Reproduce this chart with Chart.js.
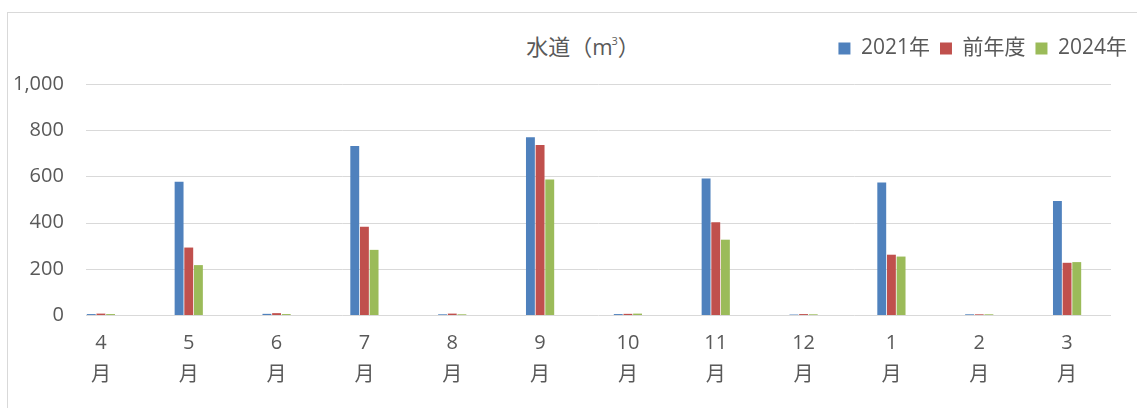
<!DOCTYPE html>
<html>
<head>
<meta charset="utf-8">
<script src="https://cdn.jsdelivr.net/npm/chart.js@4/dist/chart.umd.min.js"></script>
<style>
  html, body { margin: 0; padding: 0; background: #fff; }
  #wrap { position: relative; width: 1137px; height: 408px; overflow: hidden; }
  #frame { position: absolute; left: 7px; top: 12px; width: 1140px; height: 420px;
           border: 1px solid #d9d9d9; box-sizing: border-box; }
  #title { position: absolute; left: 0; top: 29px; width: 1166px; text-align: center;
           font: 22px "Open Sans", "Noto Sans CJK JP", sans-serif; color: #595959; }
  #title sup { font-size: 11px; vertical-align: 10px; margin-left: -1px; }
  canvas { position: absolute; left: 0; top: 0; }
</style>
</head>
<body>
<div id="wrap">
  <div id="frame"></div>
  <div id="title">水道（m<sup>3</sup>）</div>
  <canvas id="water-chart" width="1137" height="408"></canvas>
</div>
<script>
// Monthly water usage (m3), fiscal year order
const months = ['4', '5', '6', '7', '8', '9', '10', '11', '12', '1', '2', '3'];
const usage2021 = [4, 577, 5, 732, 3, 769, 4, 591, 2, 574, 3, 494];
const usagePrev = [6, 292, 8, 382, 6, 736, 5, 402, 4, 261, 3, 226];
const usage2024 = [4, 216, 4, 282, 3, 587, 6, 326, 3, 253, 3, 229];
const yTicks = [0, 200, 400, 600, 800, 1000];

const FONT = '"Open Sans", "Noto Sans CJK JP", sans-serif';
const TEXT = '#595959';
const GRID = '#d9d9d9';

// Excel draws the horizontal gridlines starting a bit right of the plot edge
const gridPlugin = {
  id: 'lateGrid',
  beforeDatasetsDraw(chart) {
    const { ctx, chartArea, scales } = chart;
    ctx.save();
    ctx.strokeStyle = GRID;
    ctx.lineWidth = 1;
    yTicks.forEach((v) => {
      const y = Math.round(scales.y.getPixelForValue(v)) + 0.5;
      ctx.beginPath();
      ctx.moveTo(86, y);
      ctx.lineTo(chartArea.right, y);
      ctx.stroke();
    });
    ctx.restore();
  },
};

const barStyle = { categoryPercentage: 0.33, barPercentage: 0.92, borderWidth: 0 };

new Chart(document.getElementById('water-chart'), {
  type: 'bar',
  data: {
    labels: months.map((m) => [m, '月']),
    datasets: [
      { label: '2021年', data: usage2021, backgroundColor: '#4f81bd', ...barStyle },
      { label: '前年度', data: usagePrev, backgroundColor: '#c0504d', ...barStyle },
      { label: '2024年', data: usage2024, backgroundColor: '#9bbb59', ...barStyle },
    ],
  },
  options: {
    responsive: false,
    animation: false,
    devicePixelRatio: 1,
    layout: { padding: { left: 0, right: 0, top: 28, bottom: 0 } },
    plugins: {
      tooltip: { enabled: false },
      legend: {
        position: 'top',
        align: 'end',
        labels: {
          color: TEXT,
          font: { family: FONT, size: 21 },
          boxWidth: 12,
          boxHeight: 12,
          padding: 10,
        },
      },
    },
    scales: {
      x: {
        grid: { display: false, drawTicks: false },
        border: { display: false },
        ticks: {
          color: TEXT,
          font: { family: FONT, size: 20, lineHeight: '32px' },
          padding: 12,
          maxRotation: 0,
          autoSkip: false,
        },
        afterFit(s) { s.height = 93; },
      },
      spacer: {
        type: 'category',
        position: 'top',
        labels: months,
        grid: { display: false, drawTicks: false },
        border: { display: false },
        ticks: { display: false },
        afterFit(s) { s.height = 15; },
      },
      y: {
        min: 0,
        max: 1000,
        afterBuildTicks(s) { s.ticks = yTicks.map((v) => ({ value: v })); },
        grid: { display: false, drawTicks: false },
        border: { display: false },
        ticks: {
          color: TEXT,
          font: { family: FONT, size: 20 },
          mirror: true,
          crossAlign: 'far',
          padding: -44,
          callback: (v) => v.toLocaleString('en-US'),
        },
        afterFit(s) { s.width = 57; },
      },
      right: {
        position: 'right',
        grid: { display: false, drawTicks: false },
        border: { display: false },
        ticks: { display: false },
        afterFit(s) { s.width = 26; },
      },
    },
  },
  plugins: [gridPlugin],
});
</script>
</body>
</html>
